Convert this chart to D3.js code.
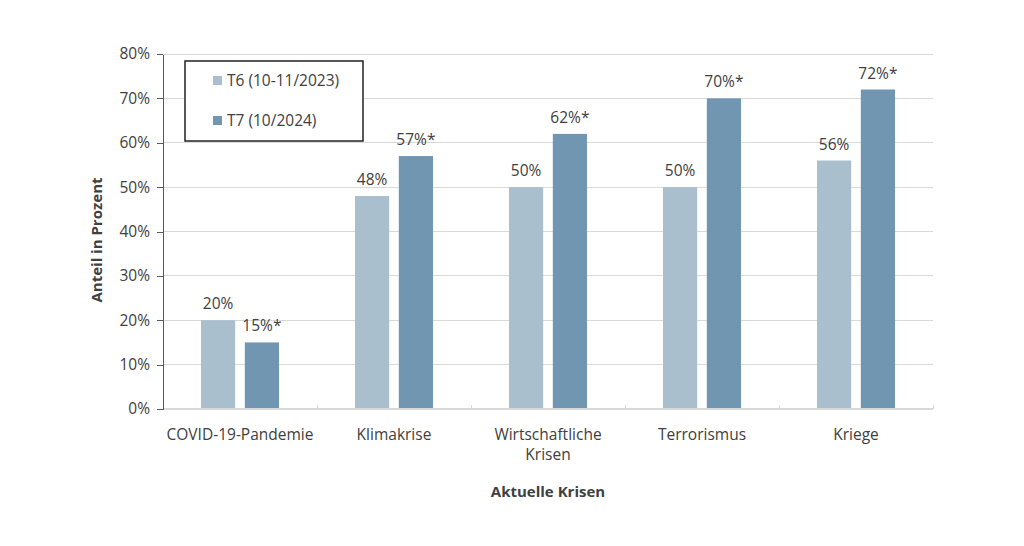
<!DOCTYPE html>
<html lang="de">
<head>
    <meta charset="UTF-8">
    <title>Aktuelle Krisen</title>
    <script src="https://d3js.org/d3.v7.min.js"></script>
    <style>
        body { margin: 0; background: #fff; }
        svg text { font-family: "Open Sans", "Noto Sans", sans-serif; fill: #404040; }
        .axis path, .axis line { shape-rendering: crispEdges; }
    </style>
</head>
<body>
<svg width="1024" height="546"></svg>
<script>
    // data
    const categories = [["COVID-19-Pandemie"], ["Klimakrise"], ["Wirtschaftliche", "Krisen"], ["Terrorismus"], ["Kriege"]];
    const seriesNames = ["T6 (10-11/2023)", "T7 (10/2024)"];
    const t6 = [20, 48, 50, 50, 56];
    const t7 = [15, 57, 62, 70, 72];
    const t6Labels = ["20%", "48%", "50%", "50%", "56%"];
    const t7Labels = ["15%*", "57%*", "62%*", "70%*", "72%*"];
    const yTicks = [0, 10, 20, 30, 40, 50, 60, 70, 80];

    const colors = ["#a9bfcd", "#7096b1"];
    const fontSize = "15.5px";
    const svg = d3.select("svg");
    const plotLeft = 163, plotRight = 933, plotTop = 54, plotBottom = 409;

    const x0 = d3.scaleBand()
        .domain(d3.range(categories.length))
        .range([plotLeft, plotRight]);
    const x1 = d3.scaleBand()
        .domain([0, 1])
        .range([x0.bandwidth() / 2 - 39, x0.bandwidth() / 2 + 39])
        .paddingInner(0.22);
    const y = d3.scaleLinear().domain([0, 80]).range([plotBottom, plotTop]);

    // gridlines
    svg.append("g")
        .selectAll("line")
        .data(yTicks.slice(1))
        .join("line")
        .attr("x1", plotLeft).attr("x2", plotRight)
        .attr("y1", d => y(d)).attr("y2", d => y(d))
        .attr("stroke", "#d9d9d9").attr("stroke-width", 1)
        .attr("shape-rendering", "crispEdges");

    // bars
    const series = [t6, t7];
    const labels = [t6Labels, t7Labels];
    series.forEach((vals, s) => {
        const g = svg.append("g");
        g.selectAll("rect")
            .data(vals)
            .join("rect")
            .attr("x", (d, i) => x0(i) + x1(s))
            .attr("width", x1.bandwidth())
            .attr("y", d => y(d))
            .attr("height", d => y(0) - y(d))
            .attr("fill", colors[s]);
        g.selectAll("text")
            .data(vals)
            .join("text")
            .attr("x", (d, i) => x0(i) + x1(s) + x1.bandwidth() / 2)
            .attr("y", d => y(d) - 11)
            .attr("text-anchor", "middle")
            .attr("font-size", fontSize)
            .text((d, i) => labels[s][i]);
    });

    // x axis
    const xAxis = svg.append("g")
        .attr("class", "axis")
        .attr("transform", `translate(0,${plotBottom})`);
    xAxis.append("line")
        .attr("x1", plotLeft).attr("x2", plotRight)
        .attr("stroke", "#d9d9d9").attr("stroke-width", 1.5);
    xAxis.selectAll("line.tick")
        .data(d3.range(1, categories.length + 1))
        .join("line")
        .attr("class", "tick")
        .attr("x1", i => x0.step() * i + plotLeft).attr("x2", i => x0.step() * i + plotLeft)
        .attr("y1", -4).attr("y2", 0)
        .attr("stroke", "#d9d9d9");
    xAxis.selectAll("text")
        .data(categories)
        .join("text")
        .attr("x", (d, i) => x0(i) + x0.bandwidth() / 2)
        .attr("y", 31)
        .attr("text-anchor", "middle")
        .attr("font-size", fontSize)
        .selectAll("tspan")
        .data(d => d)
        .join("tspan")
        .attr("x", function () { return d3.select(this.parentNode).attr("x"); })
        .attr("dy", (d, j) => j === 0 ? 0 : 20)
        .text(d => d);

    // y axis
    const yAxis = svg.append("g")
        .attr("class", "axis")
        .attr("transform", `translate(${plotLeft},0)`)
        .call(d3.axisLeft(y).tickValues(yTicks).tickFormat(d => d + "%").tickSize(6).tickSizeOuter(0));
    yAxis.select(".domain").attr("stroke", "#595959").attr("stroke-width", 1.5);
    yAxis.selectAll(".tick line").attr("stroke", "#595959");
    yAxis.selectAll(".tick text")
        .attr("font-size", fontSize)
        .attr("x", -13)
        .attr("fill", "#404040");

    // axis titles
    svg.append("text")
        .attr("transform", "translate(102,240) rotate(-90)")
        .attr("text-anchor", "middle")
        .attr("font-size", "15px")
        .attr("font-weight", "bold")
        .text("Anteil in Prozent");
    svg.append("text")
        .attr("x", (plotLeft + plotRight) / 2)
        .attr("y", 497)
        .attr("text-anchor", "middle")
        .attr("font-size", "15px")
        .attr("font-weight", "bold")
        .text("Aktuelle Krisen");

    // legend
    const legend = svg.append("g").attr("transform", "translate(185,61)");
    legend.append("rect")
        .attr("width", 178).attr("height", 80)
        .attr("fill", "#fff").attr("stroke", "#222").attr("stroke-width", 1.5);
    seriesNames.forEach((name, i) => {
        legend.append("rect")
            .attr("x", 28).attr("y", 15 + i * 40)
            .attr("width", 9).attr("height", 9)
            .attr("fill", colors[i]);
        legend.append("text")
            .attr("x", 42).attr("y", 25 + i * 40)
            .attr("font-size", fontSize)
            .text(name);
    });
</script>
</body>
</html>
